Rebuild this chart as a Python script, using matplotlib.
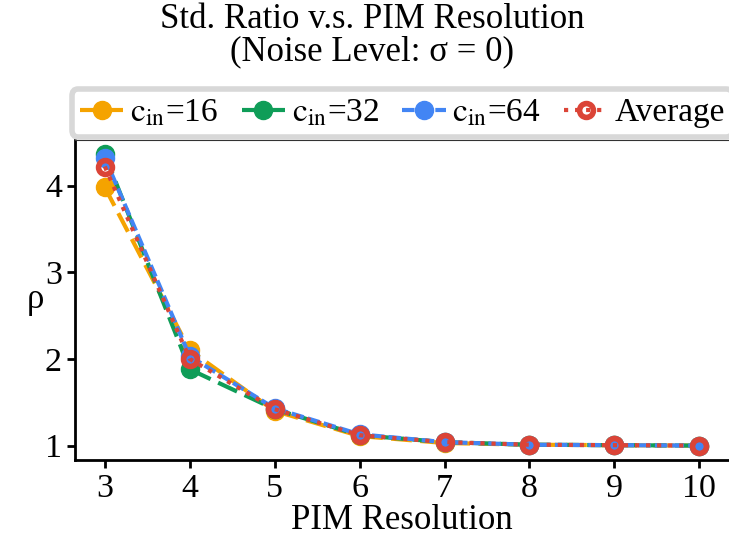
import matplotlib
matplotlib.use('Agg')
import matplotlib.pyplot as plt
import numpy as np

plt.rcParams['font.family'] = ['Liberation Serif', 'DejaVu Serif']
plt.rcParams['mathtext.fontset'] = 'stix'

# data
resolution = [3, 4, 5, 6, 7, 8, 9, 10]
rho_c16 = [3.98, 2.10, 1.40, 1.11, 1.03, 1.01, 1.005, 1.0]
rho_c32 = [4.36, 1.88, 1.42, 1.12, 1.04, 1.01, 1.005, 1.0]
rho_c64 = [4.32, 2.03, 1.43, 1.13, 1.04, 1.01, 1.005, 1.0]
rho_avg = [4.22, 2.00, 1.42, 1.12, 1.04, 1.01, 1.005, 1.0]
labels = [r'$\mathrm{c_{in}}$=16', r'$\mathrm{c_{in}}$=32', r'$\mathrm{c_{in}}$=64', 'Average']

orange = '#F5A300'
green = '#0F9D58'
blue = '#4285F4'
red = '#DB4437'

fig = plt.figure(figsize=(7.29, 5.42), dpi=100)
ax = fig.add_axes([0.103, 0.151, 0.897, 0.591])

ax.plot(resolution, rho_c16, '--', color=orange, lw=3, marker='o', ms=13, dashes=(5, 2), label=labels[0])
ax.plot(resolution, rho_c32, '--', color=green, lw=3, marker='o', ms=13, dashes=(5, 2), label=labels[1])
ax.plot(resolution, rho_c64, '--', color=blue, lw=3, marker='o', ms=13, dashes=(3, 1), label=labels[2])
ax.plot(resolution, rho_avg, ':', color=red, lw=3, marker='o', ms=10, mfc='none', mew=4, label=labels[3])

ax.set_xlim(2.65, 10.35)
ax.set_xticks(resolution)
ax.set_yticks([1, 2, 3, 4])
ax.tick_params(labelsize=24.5, width=2, length=6)
ax.set_xlabel('PIM Resolution', fontsize=25, labelpad=0)
ax.set_ylabel('ρ', fontsize=25, rotation=0)
ax.yaxis.set_label_coords(-0.06, 0.45)
for s in ['left', 'bottom']:
    ax.spines[s].set_linewidth(2)
ax.spines['top'].set_color('#333333')
ax.spines['right'].set_visible(False)

fig.text(0.51, 0.995, 'Std. Ratio v.s. PIM Resolution\n(Noise Level: σ = 0)',
         ha='center', va='top', fontsize=25, linespacing=1.0)

leg = ax.legend(loc='lower left', bbox_to_anchor=(-0.005, 1.01), ncol=4, fontsize=24,
                handlelength=1.3, handletextpad=0.2, columnspacing=0.7,
                borderpad=0.25, fancybox=True, framealpha=1, borderaxespad=0)
leg.get_frame().set_edgecolor('#d8d8d8')
leg.get_frame().set_linewidth(4)

fig.savefig('out.png', dpi=100)
